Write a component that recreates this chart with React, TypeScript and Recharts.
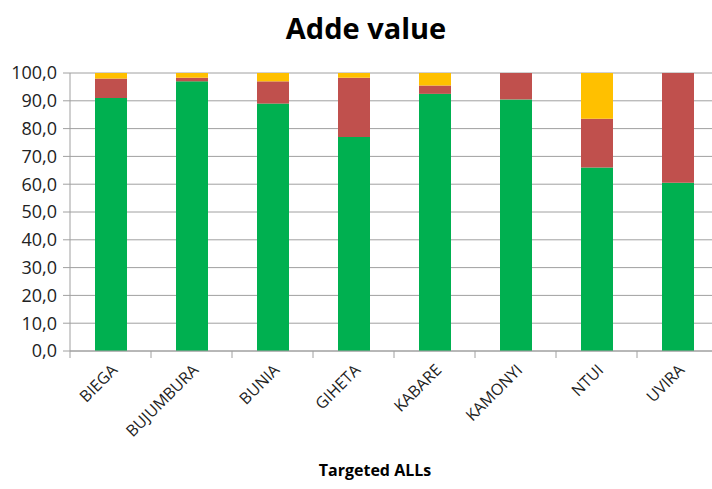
import React from 'react'
import { BarChart, Bar, XAxis, YAxis, CartesianGrid } from 'recharts'

const categories = ['BIEGA', 'BUJUMBURA', 'BUNIA', 'GIHETA', 'KABARE', 'KAMONYI', 'NTUI', 'UVIRA']
const greenValues = [91, 97, 89, 77, 92.5, 90.5, 66, 60.5]
const redValues = [7, 1.3, 8, 21.3, 3, 9.5, 17.5, 39.5]
const yellowValues = [2, 1.7, 3, 1.7, 4.5, 0, 16.5, 0]
const yTicks = [0, 10, 20, 30, 40, 50, 60, 70, 80, 90, 100]

const COLORS = {
  green: '#00B050',
  red: '#C0504D',
  yellow: '#FFC000',
  grid: '#A0A0A0',
  text: '#222222'
}

const FONT = '"Open Sans", sans-serif'
const CHART_W = 718
const CHART_H = 489
const X_AXIS_H = 30
const MARGIN = { top: 73, right: 0, left: 0, bottom: 138 - X_AXIS_H }
const Y_AXIS_W = 70
const BAND = (CHART_W - Y_AXIS_W - MARGIN.right) / categories.length

const data = categories.map((name, i) => ({
  name,
  green: greenValues[i],
  red: redValues[i],
  yellow: yellowValues[i]
}))

// category labels are slanted; tick marks sit on the category boundaries
const CategoryTick = ({ x, y, payload }: any) => {
  const left = x - BAND / 2
  const tx = x + 8
  const ty = y + 12
  return (
    <g>
      <line x1={left} y1={y - 8} x2={left} y2={y - 1} stroke={COLORS.grid} />
      <text
        x={tx}
        y={ty}
        transform={`rotate(-45, ${tx}, ${ty})`}
        textAnchor="end"
        fontFamily={FONT}
        fontSize={16}
        fill={COLORS.text}
      >
        {payload.value}
      </text>
    </g>
  )
}

const App: React.FC = () => {
  return (
    <div
      style={{
        position: 'absolute',
        left: 0,
        top: 0,
        width: 712,
        height: CHART_H,
        overflow: 'hidden',
        background: '#fff'
      }}
    >
      <div
        style={{
          position: 'absolute',
          left: 0,
          width: 732,
          top: 8,
          textAlign: 'center',
          fontFamily: FONT,
          fontWeight: 700,
          fontSize: 29,
          color: '#000'
        }}
      >
        Adde value
      </div>
      <BarChart width={CHART_W} height={CHART_H} data={data} margin={MARGIN}>
        <CartesianGrid vertical={false} stroke={COLORS.grid} />
        <XAxis
          dataKey="name"
          height={X_AXIS_H}
          tickLine={false}
          axisLine={{ stroke: COLORS.grid }}
          tick={<CategoryTick />}
          interval={0}
        />
        <YAxis
          width={Y_AXIS_W}
          domain={[0, 100]}
          ticks={yTicks}
          tickFormatter={(v: number) => v.toFixed(1).replace('.', ',')}
          tickSize={7}
          tickMargin={6}
          tickLine={{ stroke: COLORS.grid }}
          axisLine={{ stroke: COLORS.grid }}
          tick={{ fontFamily: FONT, fontSize: 18, fill: COLORS.text }}
        />
        <Bar dataKey="green" stackId="a" fill={COLORS.green} barSize={32} isAnimationActive={false} />
        <Bar dataKey="red" stackId="a" fill={COLORS.red} barSize={32} isAnimationActive={false} />
        <Bar dataKey="yellow" stackId="a" fill={COLORS.yellow} barSize={32} isAnimationActive={false} />
      </BarChart>
      <div
        style={{
          position: 'absolute',
          left: 0,
          width: 750,
          top: 459,
          textAlign: 'center',
          fontFamily: FONT,
          fontWeight: 700,
          fontSize: 16,
          color: '#000'
        }}
      >
        Targeted ALLs
      </div>
    </div>
  )
}

export default App
